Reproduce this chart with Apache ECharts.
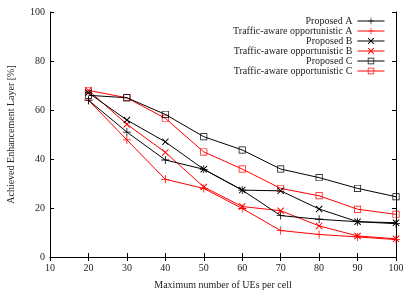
<!DOCTYPE html>
<html><head><meta charset="utf-8">
<script src="https://cdn.jsdelivr.net/npm/echarts@6/dist/echarts.min.js"></script>
<style>html,body{margin:0;padding:0;background:#fff}#c{width:403px;height:291px}</style>
</head><body><div id="c"></div>
<script>
var categories = [20, 30, 40, 50, 60, 70, 80, 90, 100];
var proposedA = [64, 51, 39.6, 35.8, 27.3, 16.9, 15.4, 14.4, 13.6];
var trafficA = [64, 47.8, 31.7, 28, 19.8, 10.8, 9.2, 8.2, 7.1];
var proposedB = [67, 55.9, 47, 35.8, 27.3, 27, 19.6, 14.4, 14];
var trafficB = [68, 54.2, 42.7, 28.6, 20.6, 18.9, 12.7, 8.6, 7.4];
var proposedC = [66, 65, 58.2, 49.1, 43.7, 35.9, 32.4, 28, 24.6];
var trafficC = [68, 65, 56.6, 42.9, 35.9, 28, 25, 19.5, 17.4];
var yTicks = [0, 20, 40, 60, 80, 100];
var xTicks = [10, 20, 30, 40, 50, 60, 70, 80, 90, 100];

var PLUS = 'path://M4.5,0h1v10h-1z M0,4.5h10v1h-10z';
var CROSS = 'path://M0,1L1,0L10,9L9,10Z M9,0L10,1L1,10L0,9Z';
var SQUARE = 'path://M0,0h10v10h-10z M1,1v8h8v-8z';
var FONT = '"Liberation Serif", "DejaVu Serif", serif';

function mk(name, vals, color, sym, size) {
  return {
    name: name, type: 'line', data: categories.map(function (c, i) { return [c, vals[i]]; }),
    symbol: sym, symbolSize: size, showAllSymbol: true,
    lineStyle: { color: color, width: 1 },
    itemStyle: { color: color },
    emphasis: { disabled: true }, animation: false, z: color === '#000' ? 3 : 2
  };
}

var chart = echarts.init(document.getElementById('c'), null, { renderer: 'canvas' });
var axisLine = { show: true, lineStyle: { color: '#000', width: 1 } };
var tick = { show: true, inside: true, length: 4, lineStyle: { color: '#000', width: 1 } };
chart.setOption({
  backgroundColor: '#fff',
  animation: false,
  textStyle: { fontFamily: FONT },
  grid: { left: 50, right: 7, top: 12, bottom: 34, containLabel: false, outerBoundsMode: 'none' },
  legend: {
    orient: 'vertical', right: 18, top: 16, align: 'right', padding: 0,
    itemWidth: 27, itemHeight: 8, itemGap: 0,
    lineStyle: { width: 1 },
    textStyle: { fontFamily: FONT, fontSize: 10, lineHeight: 9.7, color: '#222', padding: [0, 0, 0, 0] },
    data: ['Proposed A', 'Traffic-aware opportunistic A', 'Proposed B', 'Traffic-aware opportunistic B', 'Proposed C', 'Traffic-aware opportunistic C']
  },
  xAxis: [{
    type: 'value', min: 10, max: 100, interval: 10,
    name: 'Maximum number of UEs per cell', nameLocation: 'middle', nameGap: 23,
    nameTextStyle: { fontFamily: FONT, fontSize: 10, color: '#222' },
    axisLine: axisLine, axisTick: tick, splitLine: { show: false },
    axisLabel: { fontFamily: FONT, fontSize: 10, color: '#222', margin: 6,
      alignMinLabel: 'center', alignMaxLabel: 'center',
      formatter: function (v) { return xTicks.indexOf(v) >= 0 ? String(v) : ''; } }
  }, {
    type: 'value', min: 10, max: 100, interval: 10, position: 'top',
    axisLine: axisLine, axisTick: tick, axisLabel: { show: false }, splitLine: { show: false }
  }],
  yAxis: [{
    type: 'value', min: 0, max: 100, interval: 20,
    name: 'Achieved Enhancement Layer [%]', nameLocation: 'middle', nameGap: 34,
    nameTextStyle: { fontFamily: FONT, fontSize: 10, color: '#222' },
    axisLine: axisLine, axisTick: tick, splitLine: { show: false },
    axisLabel: { fontFamily: FONT, fontSize: 10, color: '#222', margin: 5,
      formatter: function (v) { return yTicks.indexOf(v) >= 0 ? String(v) : ''; } }
  }, {
    type: 'value', min: 0, max: 100, interval: 20, position: 'right',
    axisLine: axisLine, axisTick: tick, axisLabel: { show: false }, splitLine: { show: false }
  }],
  series: [
    mk('Proposed A', proposedA, '#000', PLUS, 8),
    mk('Traffic-aware opportunistic A', trafficA, '#ff0000', PLUS, 8),
    mk('Proposed B', proposedB, '#000', CROSS, 7),
    mk('Traffic-aware opportunistic B', trafficB, '#ff0000', CROSS, 7),
    mk('Proposed C', proposedC, '#000', SQUARE, 7),
    mk('Traffic-aware opportunistic C', trafficC, '#ff0000', SQUARE, 7)
  ]
});
</script></body></html>
